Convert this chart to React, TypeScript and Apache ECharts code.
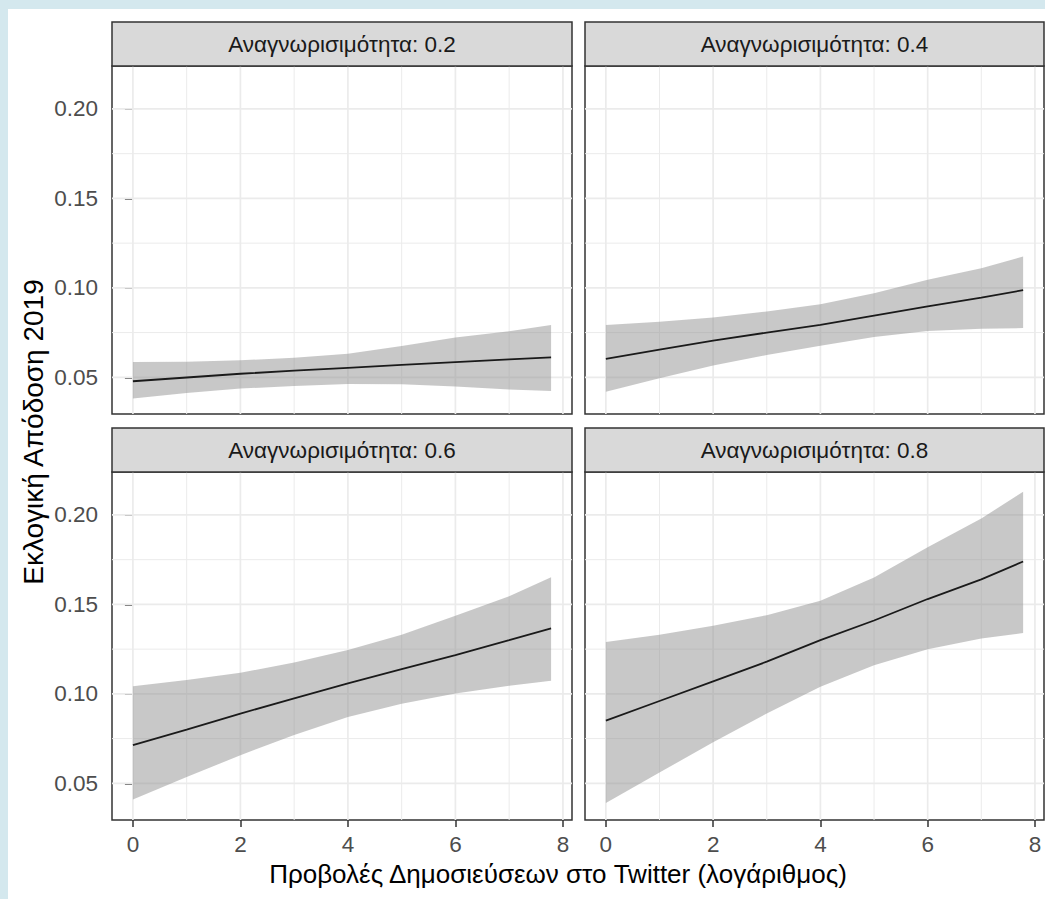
import React, { useEffect, useRef } from "react";
import * as echarts from "echarts";

// Facet titles (one per recognisability level)
const panelTitles = [
  "Αναγνωρισιμότητα: 0.2",
  "Αναγνωρισιμότητα: 0.4",
  "Αναγνωρισιμότητα: 0.6",
  "Αναγνωρισιμότητα: 0.8",
];

// Log of Twitter post views (x positions of the prediction curve)
const logViews = [0, 1, 2, 3, 4, 5, 6, 7, 7.78];

// Predicted 2019 electoral performance with confidence band, per facet
const fit02 = [0.0478, 0.0499, 0.052, 0.0537, 0.0553, 0.0569, 0.0585, 0.06, 0.0612];
const lower02 = [0.0382, 0.0413, 0.0437, 0.0452, 0.0463, 0.0461, 0.0449, 0.0432, 0.0424];
const upper02 = [0.0585, 0.0587, 0.0595, 0.061, 0.0632, 0.0675, 0.0722, 0.0758, 0.0793];

const fit04 = [0.0603, 0.0655, 0.0705, 0.075, 0.0793, 0.0845, 0.0897, 0.0946, 0.0987];
const lower04 = [0.0419, 0.0495, 0.0566, 0.0625, 0.0676, 0.0725, 0.0759, 0.0772, 0.0775];
const upper04 = [0.0793, 0.081, 0.0834, 0.0868, 0.0908, 0.097, 0.1045, 0.111, 0.1175];

const fit06 = [0.0713, 0.08, 0.089, 0.0975, 0.1058, 0.1138, 0.1217, 0.13, 0.1366];
const lower06 = [0.0409, 0.0535, 0.0657, 0.077, 0.0871, 0.0945, 0.1002, 0.1045, 0.1073];
const upper06 = [0.1043, 0.1078, 0.1118, 0.1175, 0.1245, 0.133, 0.1437, 0.1545, 0.1652];

const fit08 = [0.085, 0.096, 0.107, 0.118, 0.13, 0.141, 0.153, 0.164, 0.174];
const lower08 = [0.039, 0.056, 0.073, 0.089, 0.104, 0.116, 0.125, 0.131, 0.134];
const upper08 = [0.129, 0.133, 0.138, 0.144, 0.152, 0.165, 0.182, 0.198, 0.213];

// Axis breaks
const xTicks = [0, 2, 4, 6, 8];
const xMinor = [1, 3, 5, 7];
const yTicks = [0.05, 0.1, 0.15, 0.2];
const yMinor = [0.075, 0.125, 0.175];

const xTitle = "Προβολές Δημοσιεύσεων στο Twitter (λογάριθμος)";
const yTitle = "Εκλογική Απόδοση 2019";

const fits = [fit02, fit04, fit06, fit08];
const lowers = [lower02, lower04, lower06, lower08];
const uppers = [upper02, upper04, upper06, upper08];

const X_MIN = -0.389;
const X_MAX = 8.169;
const Y_MIN = 0.0295;
const Y_MAX = 0.224;

const FONT = "'Liberation Sans', Arial, Helvetica, sans-serif";

const panels = [
  { left: 112, top: 66, width: 460, height: 348 },
  { left: 585, top: 66, width: 459, height: 348 },
  { left: 112, top: 472, width: 460, height: 348 },
  { left: 585, top: 472, width: 459, height: 348 },
];
const STRIP_H = 44;

export default function App() {
  const ref = useRef<HTMLDivElement>(null);

  useEffect(() => {
    if (!ref.current) return;
    const chart = echarts.init(ref.current, undefined, { renderer: "svg" });

    const grids = panels.map((p) => ({
      left: p.left,
      top: p.top,
      width: p.width,
      height: p.height,
      show: true,
      backgroundColor: "#ffffff",
      borderColor: "#333333",
      borderWidth: 1.5,
      containLabel: false,
    }));

    const xAxes = panels.map((_, i) => {
      const bottom = i >= 2;
      return {
        type: "value",
        gridIndex: i,
        min: X_MIN,
        max: X_MAX,
        axisLine: { show: false },
        splitLine: { show: false },
        axisTick: {
          show: bottom,
          customValues: xTicks,
          length: 7,
          lineStyle: { color: "#333333", width: 1.5 },
        },
        axisLabel: {
          show: bottom,
          customValues: xTicks,
          margin: 13,
          color: "#4d4d4d",
          fontSize: 22.5,
          lineHeight: 22,
          fontFamily: FONT,
          formatter: (v: number) => String(v),
        },
      };
    });

    const yAxes = panels.map((_, i) => {
      const left = i % 2 === 0;
      return {
        type: "value",
        gridIndex: i,
        min: Y_MIN,
        max: Y_MAX,
        axisLine: { show: false },
        splitLine: { show: false },
        axisTick: {
          show: left,
          customValues: yTicks,
          length: 8,
          lineStyle: { color: "#333333", width: 1.5 },
        },
        axisLabel: {
          show: left,
          customValues: yTicks,
          margin: 14,
          color: "#4d4d4d",
          fontSize: 22.5,
          fontFamily: FONT,
          formatter: (v: number) => v.toFixed(2),
        },
      };
    });

    const bandSeries = panels.map((_, i) => ({
      type: "custom",
      xAxisIndex: i,
      yAxisIndex: i,
      z: 1,
      silent: true,
      data: [[0, fits[i][0]]],
      renderItem: (_params: any, api: any) => {
        const children: any[] = [];
        const hLine = (v: number, w: number) => {
          const a = api.coord([X_MIN, v]);
          const b = api.coord([X_MAX, v]);
          children.push({
            type: "line",
            shape: { x1: a[0], y1: a[1], x2: b[0], y2: b[1] },
            style: { stroke: "#ebebeb", lineWidth: w },
          });
        };
        const vLine = (v: number, w: number) => {
          const a = api.coord([v, Y_MIN]);
          const b = api.coord([v, Y_MAX]);
          children.push({
            type: "line",
            shape: { x1: a[0], y1: a[1], x2: b[0], y2: b[1] },
            style: { stroke: "#ebebeb", lineWidth: w },
          });
        };
        yMinor.forEach((v) => hLine(v, 1.0));
        xMinor.forEach((v) => vLine(v, 1.0));
        yTicks.forEach((v) => hLine(v, 1.7));
        xTicks.forEach((v) => vLine(v, 1.7));

        const top = logViews.map((x, k) => api.coord([x, uppers[i][k]]));
        const bottom = logViews
          .map((x, k) => api.coord([x, lowers[i][k]]))
          .reverse();
        children.push({
          type: "polygon",
          shape: { points: [...top, ...bottom] },
          style: { fill: "rgba(140,140,140,0.48)" },
        });
        return { type: "group", children };
      },
    }));

    const lineSeries = panels.map((_, i) => ({
      type: "line",
      xAxisIndex: i,
      yAxisIndex: i,
      z: 3,
      silent: true,
      showSymbol: false,
      data: logViews.map((x, k) => [x, fits[i][k]]),
      lineStyle: { color: "#1a1a1a", width: 1.8 },
    }));

    const strips: any[] = [];
    panels.forEach((p, i) => {
      strips.push({
        type: "rect",
        shape: { x: p.left, y: p.top - STRIP_H, width: p.width, height: STRIP_H },
        style: { fill: "#d9d9d9", stroke: "#333333", lineWidth: 1.5 },
        z: 10,
      });
      strips.push({
        type: "text",
        x: p.left + p.width / 2,
        y: p.top - STRIP_H / 2,
        style: {
          text: panelTitles[i],
          fill: "#1a1a1a",
          font: `22.5px ${FONT}`,
          textAlign: "center",
          textVerticalAlign: "middle",
        },
        z: 11,
      });
    });

    chart.setOption({
      animation: false,
      backgroundColor: "transparent",
      grid: grids,
      xAxis: xAxes,
      yAxis: yAxes,
      series: [...bandSeries, ...lineSeries],
      graphic: [
        ...strips,
        {
          type: "text",
          x: 558,
          y: 874,
          style: {
            text: xTitle,
            fill: "#000000",
            font: `26px ${FONT}`,
            textAlign: "center",
            textVerticalAlign: "middle",
          },
        },
        {
          type: "text",
          x: 33,
          y: 432,
          rotation: Math.PI / 2,
          style: {
            text: yTitle,
            fill: "#000000",
            font: `28px ${FONT}`,
            textAlign: "center",
            textVerticalAlign: "middle",
          },
        },
      ],
    });

    return () => chart.dispose();
  }, []);

  return (
    <div
      style={{
        position: "absolute",
        left: 0,
        top: 0,
        width: 1045,
        height: 899,
        background: "#d4e8ee",
      }}
    >
      <div
        style={{
          position: "absolute",
          left: 8,
          top: 9,
          width: 1037,
          height: 890,
          background: "#ffffff",
        }}
      />
      <div
        ref={ref}
        style={{ position: "absolute", left: 0, top: 0, width: 1045, height: 899 }}
      />
    </div>
  );
}
